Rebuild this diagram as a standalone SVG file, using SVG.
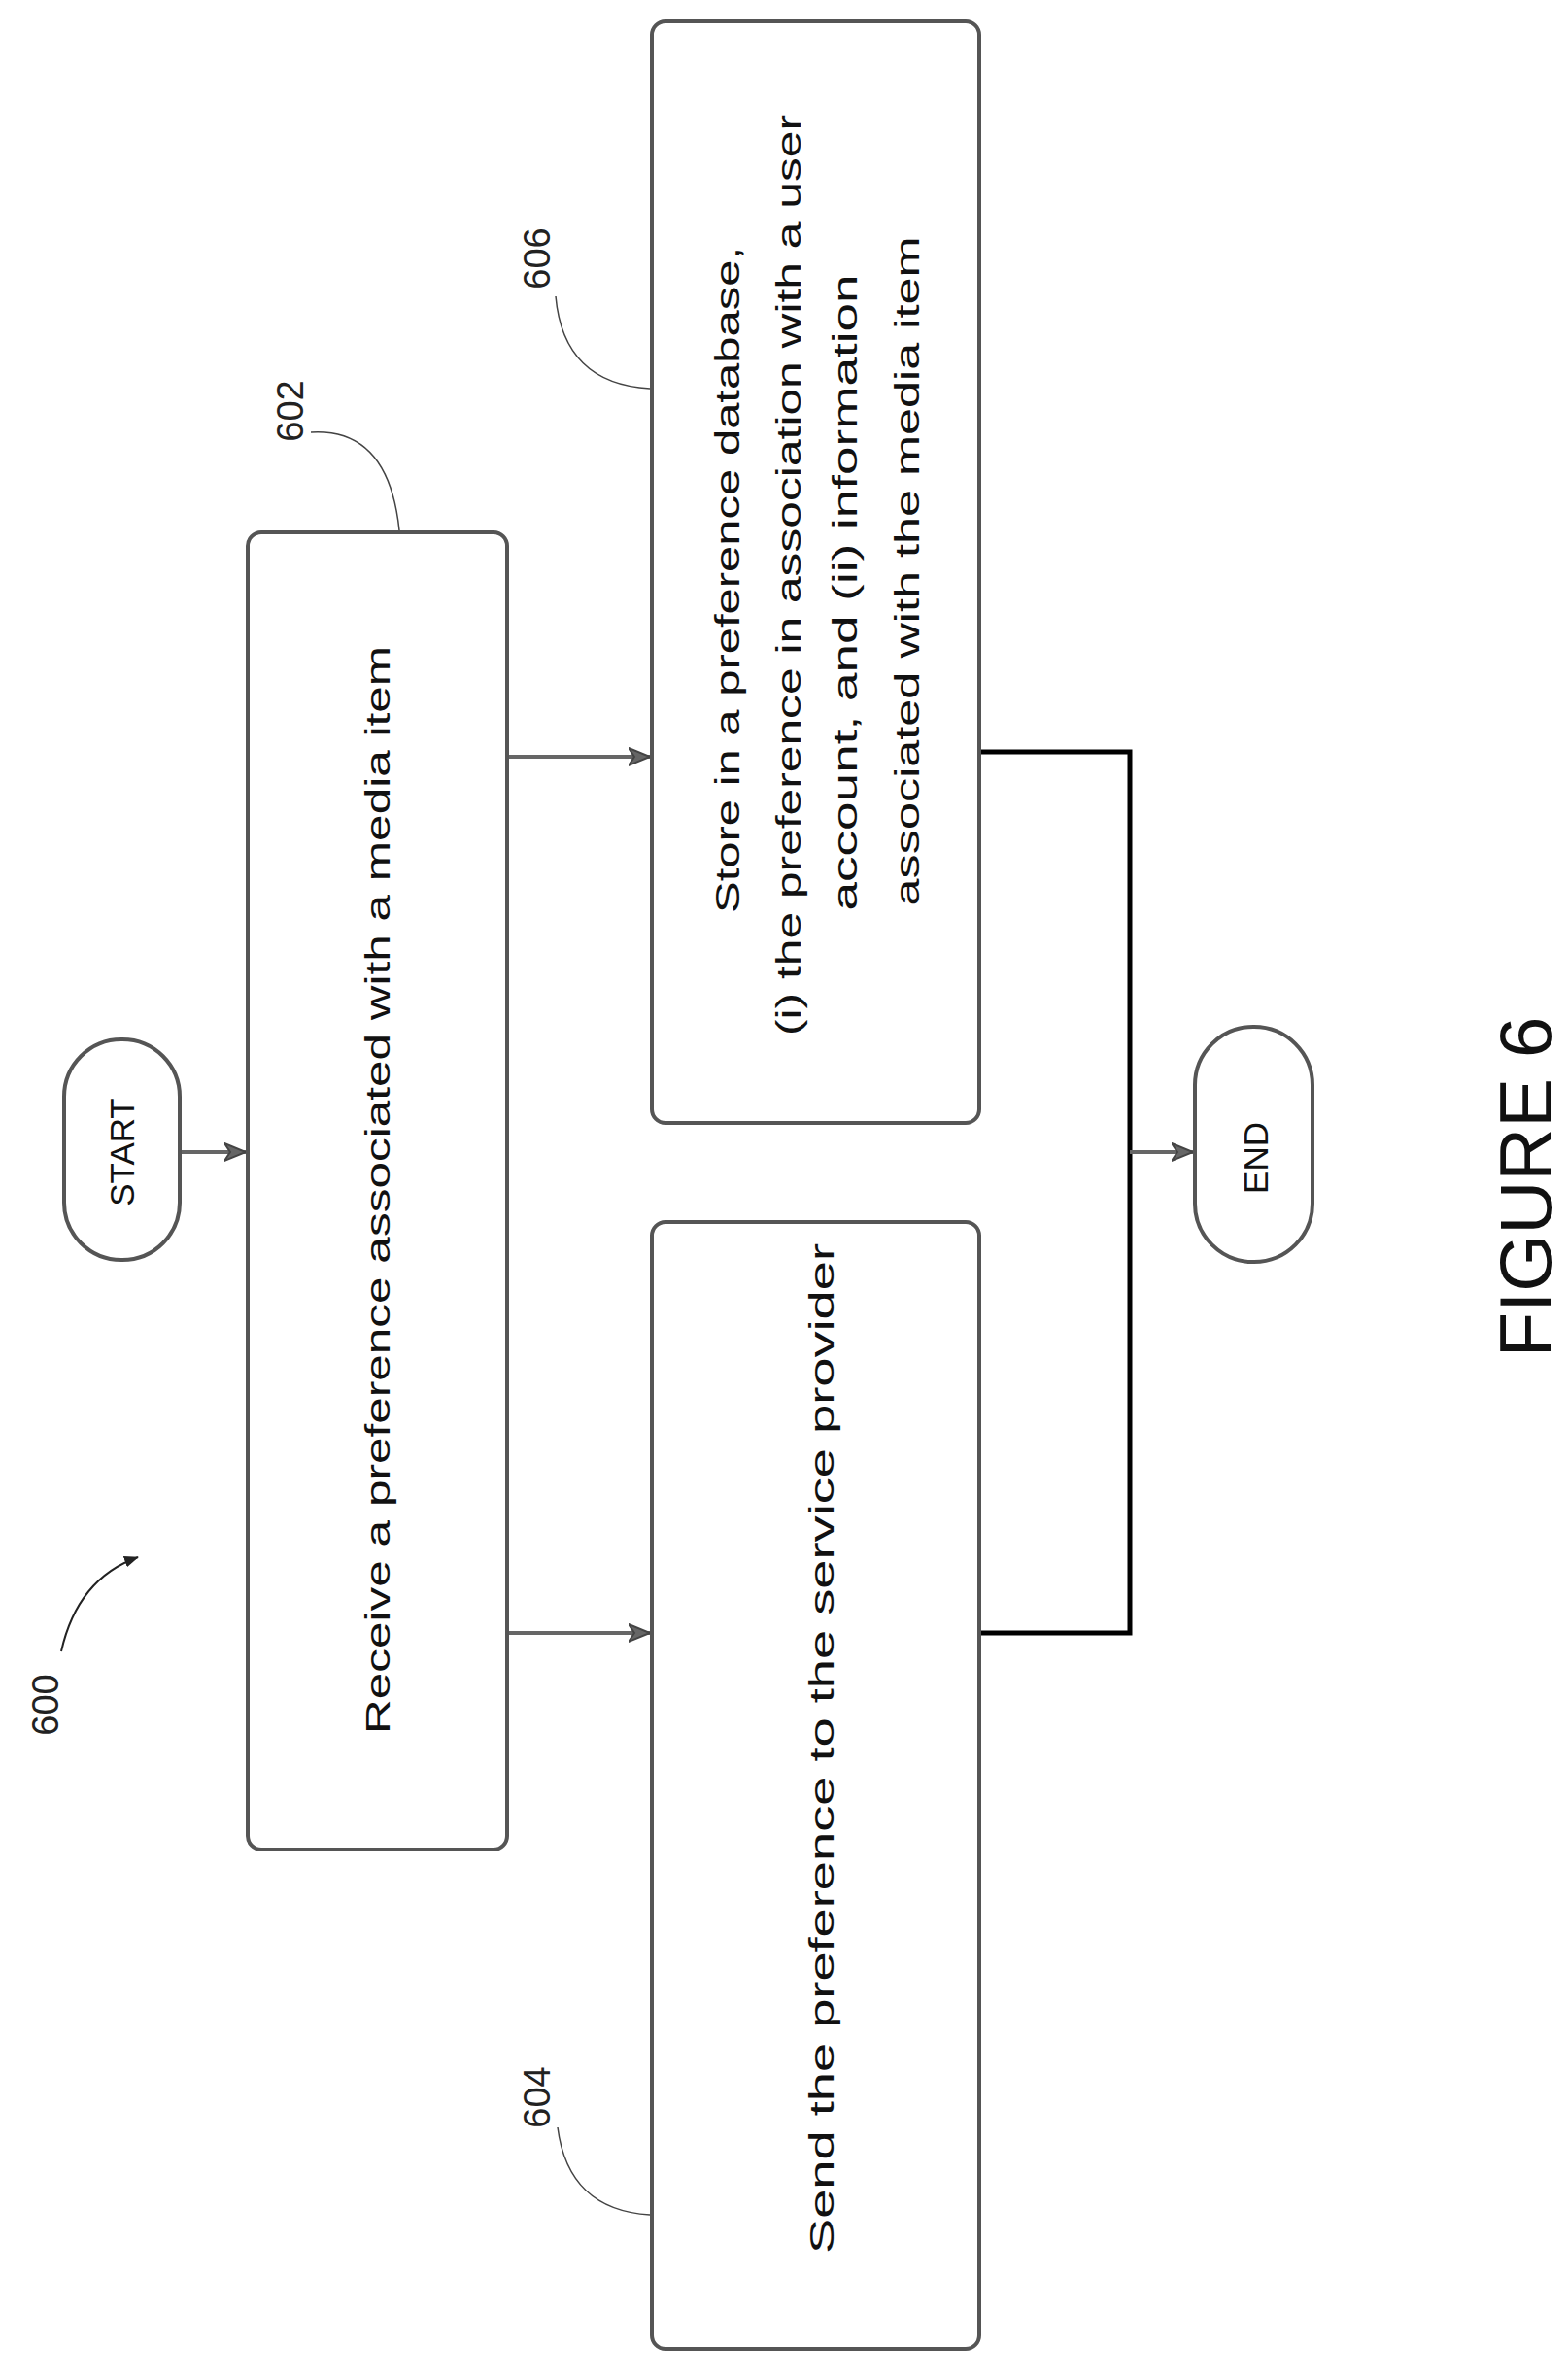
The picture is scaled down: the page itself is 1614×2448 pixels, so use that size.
<svg xmlns="http://www.w3.org/2000/svg" width="1614" height="2448" viewBox="0 0 1614 2448">
<style>
.box{fill:#fff;stroke:#555;stroke-width:4}
.t{font-family:"Liberation Sans",Arial,sans-serif;font-size:35px;fill:#111;text-anchor:middle}
.lbl{font-family:"Liberation Sans",Arial,sans-serif;font-size:38px;fill:#222;text-anchor:middle}
.c{fill:none;stroke:#666;stroke-width:4}
.b{fill:none;stroke:#000;stroke-width:5}
.lead{fill:none;stroke:#444;stroke-width:1.5}
</style>
<defs>
<marker id="ah" markerWidth="16" markerHeight="16" refX="14" refY="8" orient="auto" markerUnits="userSpaceOnUse" viewBox="0 0 16 16"><path d="M0,2 L15,8 L0,14 Z" fill="#222"/></marker>
<marker id="ah2" markerWidth="24" markerHeight="24" refX="22" refY="12" orient="auto" markerUnits="userSpaceOnUse" viewBox="0 0 24 24"><path d="M0,3 L22,12 L0,21 L6,12 Z" fill="#666" stroke="#444" stroke-width="2"/></marker>
</defs>
<g id="connectors">
<line class="c" x1="185" y1="1186" x2="253" y2="1186" marker-end="url(#ah2)"/>
<line class="c" x1="522" y1="779" x2="669" y2="779" marker-end="url(#ah2)"/>
<line class="c" x1="522" y1="1681" x2="669" y2="1681" marker-end="url(#ah2)"/>
<polyline class="b" points="1008,774 1163,774 1163,1681 1008,1681"/>
<line class="c" x1="1163" y1="1186" x2="1228" y2="1186" marker-end="url(#ah2)"/>
</g>
<g id="start"><rect class="box" x="66" y="1070" width="119" height="227" rx="59"/><text class="t" transform="translate(138,1186) rotate(-90)">START</text></g>
<g id="end"><rect class="box" x="1230" y="1057" width="121" height="242" rx="60"/><text class="t" transform="translate(1305,1192) rotate(-90)">END</text></g>
<g id="n602"><rect class="box" x="255" y="548" width="267" height="1356" rx="14"/><text class="t" transform="translate(401,1225) rotate(-90)" textLength="1120" lengthAdjust="spacingAndGlyphs">Receive a preference associated with a media item</text></g>
<g id="n606"><rect class="box" x="671" y="22" width="337" height="1134" rx="14"/>
<text class="t" transform="translate(761,597) rotate(-90)" textLength="686" lengthAdjust="spacingAndGlyphs">Store in a preference database,</text>
<text class="t" transform="translate(824,592) rotate(-90)" textLength="948" lengthAdjust="spacingAndGlyphs">(i) the preference in association with a user</text>
<text class="t" transform="translate(882,610) rotate(-90)" textLength="655" lengthAdjust="spacingAndGlyphs">account, and (ii) information</text>
<text class="t" transform="translate(946,588) rotate(-90)" textLength="689" lengthAdjust="spacingAndGlyphs">associated with the media item</text></g>
<g id="n604"><rect class="box" x="671" y="1258" width="337" height="1160" rx="14"/><text class="t" transform="translate(858,1800) rotate(-90)" textLength="1040" lengthAdjust="spacingAndGlyphs">Send the preference to the service provider</text></g>
<g id="labels">
<text class="lbl" transform="translate(60,1755) rotate(-90)">600</text>
<path d="M63,1700 Q80,1625 142,1603" fill="none" stroke="#222" stroke-width="2" marker-end="url(#ah)"/>
<text class="lbl" transform="translate(312,423) rotate(-90)">602</text>
<path class="lead" d="M320,445 Q400,440 411,546"/>
<text class="lbl" transform="translate(566,266) rotate(-90)">606</text>
<path class="lead" d="M572,305 Q580,395 669,400"/>
<text class="lbl" transform="translate(566,2159) rotate(-90)">604</text>
<path class="lead" d="M574,2190 Q585,2275 669,2280"/>
<text x="0" y="0" transform="translate(1597,1222) rotate(-90)" font-family="Liberation Sans,Arial,sans-serif" font-size="76" text-anchor="middle" fill="#111">FIGURE 6</text>
</g>
</svg>
